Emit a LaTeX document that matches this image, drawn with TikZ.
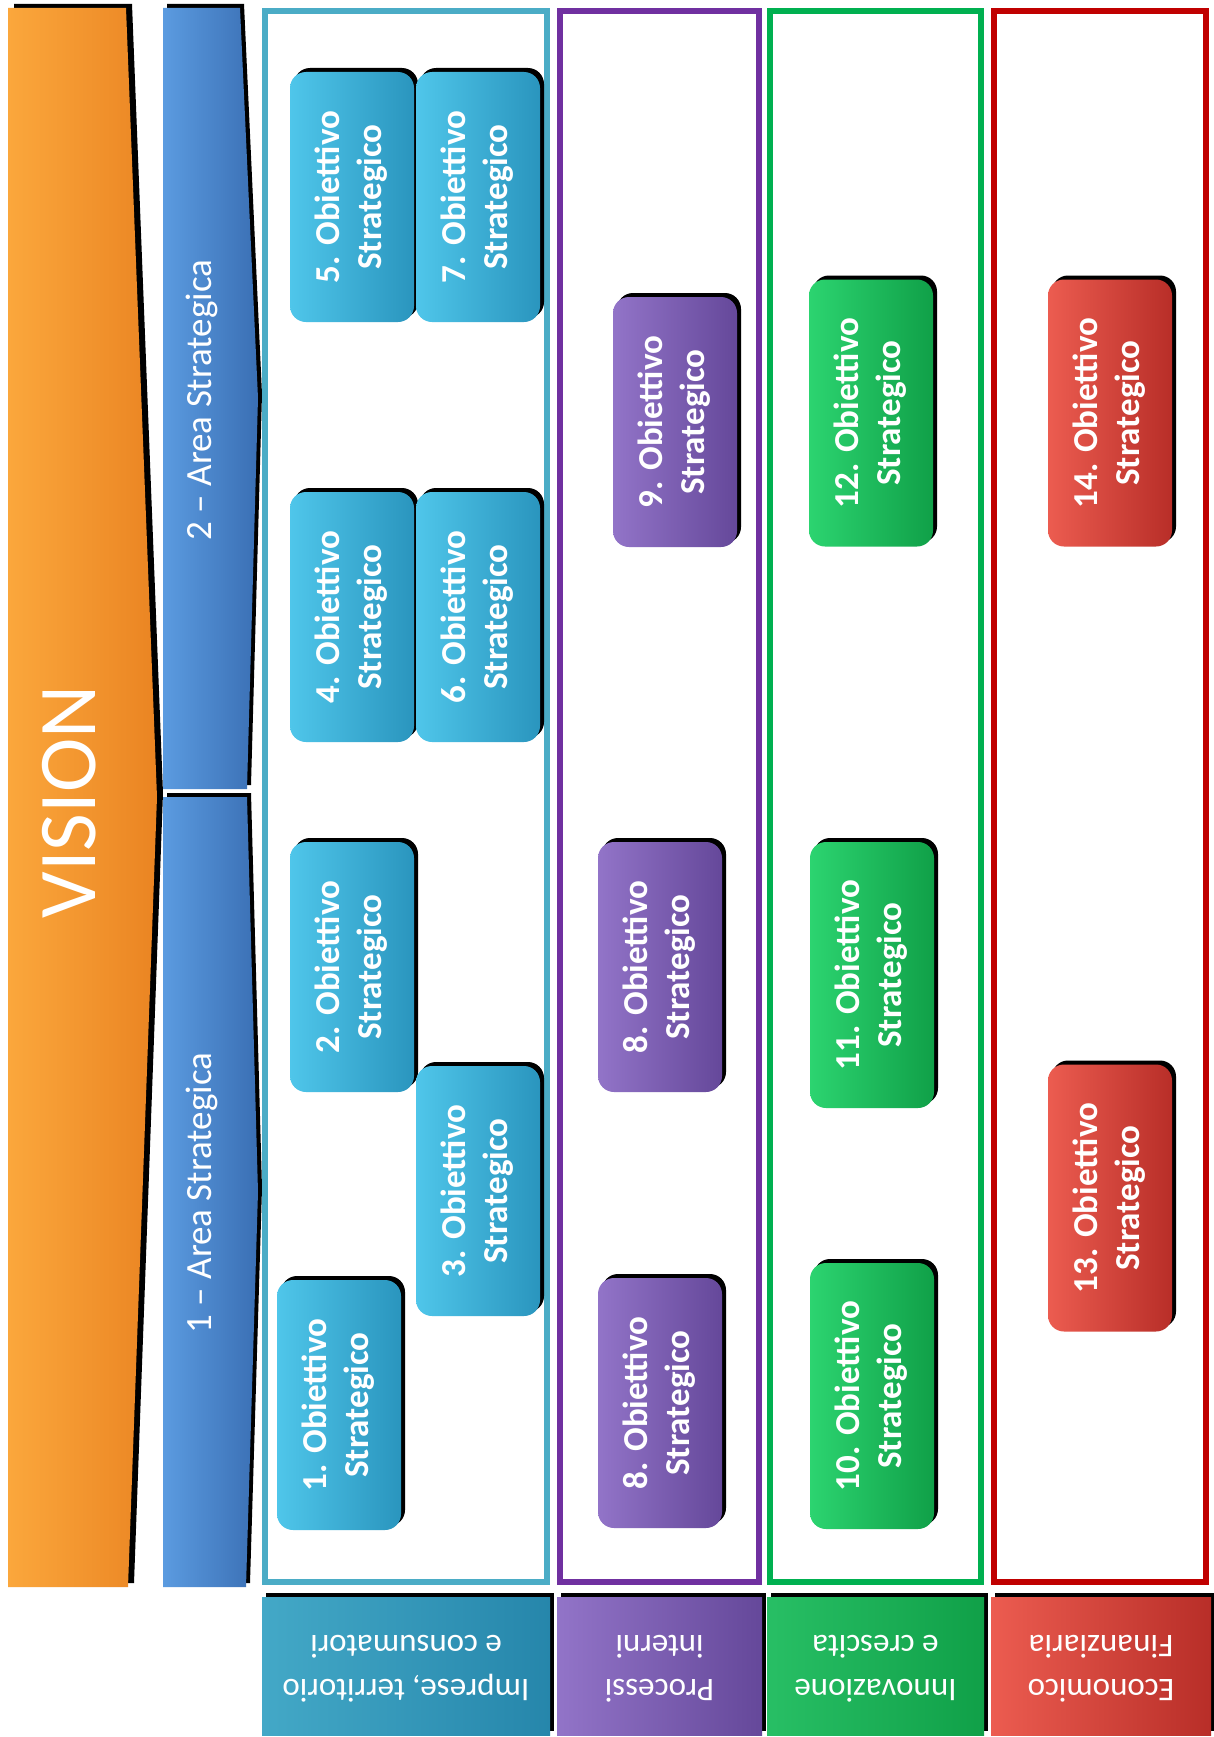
\documentclass[tikz,border=0pt]{standalone}
\usepackage{fontspec}
\setmainfont{Carlito}
\usetikzlibrary{shadows}
\definecolor{orL}{HTML}{FBA73C}
\definecolor{orD}{HTML}{EA8422}
\definecolor{blL}{HTML}{5B9BE0}
\definecolor{blD}{HTML}{3A6FB4}
\definecolor{cyL}{HTML}{4FC6EA}
\definecolor{cyD}{HTML}{2A95BE}
\definecolor{puL}{HTML}{9274C8}
\definecolor{puD}{HTML}{65489A}
\definecolor{grL}{HTML}{2CD470}
\definecolor{grD}{HTML}{10A048}
\definecolor{reL}{HTML}{EC5C50}
\definecolor{reD}{HTML}{B82E28}
\definecolor{cyF}{HTML}{4BACC6}
\definecolor{puF}{HTML}{7030A0}
\definecolor{grF}{HTML}{00B050}
\definecolor{reF}{HTML}{C00000}
\newcommand{\vlines}[1]{\rotatebox{90}{\begin{tabular}{@{}c@{}}#1\end{tabular}}}
\newcommand{\ulines}[1]{\rotatebox{180}{\begin{tabular}{@{}c@{}}#1\end{tabular}}}
\begin{document}
\begin{tikzpicture}[x=1pt,y=-1pt,
  sh/.style={drop shadow={shadow xshift=4pt, shadow yshift=4pt, opacity=1, fill=black}},
  objbox/.style={sh, rounded corners=16pt, minimum width=124pt, minimum height=250pt, inner sep=0pt, text=white, font=\fontsize{35pt}{42pt}\selectfont\bfseries},
  cyobj/.style={objbox, left color=cyL, right color=cyD},
  puobj/.style={objbox, left color=puL, right color=puD},
  grobj/.style={objbox, left color=grL, right color=grD},
  reobj/.style={objbox, left color=reL, right color=reD},
  lablbox/.style={sh, inner sep=0pt, minimum height=138pt, text=white, font=\fontsize{33pt}{44pt}\selectfont},
  colframe/.style={line width=6pt, fill=white, inner sep=0pt, minimum height=1571pt},
  bartext/.style={rotate=90, text=white, inner sep=0pt},
]
\useasboundingbox (0,0) rectangle (1213,1737);
\fill[white] (0,0) rectangle (1213,1737);

% chevrons
\path[drop shadow={shadow xshift=6pt, shadow yshift=4pt, opacity=1, fill=black}, left color=orL, right color=orD]
  (8,8) -- (126,8) -- (157,797) -- (128,1587) -- (8,1587) -- cycle;
\path[sh, left color=blL, right color=blD]
  (163,8) -- (240,8) -- (258,398) -- (247,789) -- (163,789) -- cycle;
\path[sh, left color=blL, right color=blD]
  (163,797) -- (247,797) -- (258,1192) -- (246,1587) -- (163,1587) -- cycle;

\node[bartext, font=\fontsize{82pt}{90pt}\selectfont] (vision) at (69,802) {VISION};
\node[bartext, font=\fontsize{37pt}{44pt}\selectfont] (area2) at (202,400) {2 – Area Strategica};
\node[bartext, font=\fontsize{37pt}{44pt}\selectfont] (area1) at (202,1193) {1 – Area Strategica};

% frames
\node[colframe, draw=cyF, minimum width=282pt] (f1) at (406,796.5) {};
\node[colframe, draw=puF, minimum width=199pt] (f2) at (659.5,796.5) {};
\node[colframe, draw=grF, minimum width=211pt] (f3) at (875.5,796.5) {};
\node[colframe, draw=reF, minimum width=212pt] (f4) at (1100,796.5) {};

% objectives
\node[cyobj] (o5) at (352,197) {\vlines{5. Obiettivo\\Strategico}};
\node[cyobj] (o7) at (478,197) {\vlines{7. Obiettivo\\Strategico}};
\node[cyobj] (o4) at (352,617) {\vlines{4. Obiettivo\\Strategico}};
\node[cyobj] (o6) at (478,617) {\vlines{6. Obiettivo\\Strategico}};
\node[cyobj] (o2) at (352,967) {\vlines{2. Obiettivo\\Strategico}};
\node[cyobj] (o3) at (478,1191) {\vlines{3. Obiettivo\\Strategico}};
\node[cyobj] (o1) at (339,1405) {\vlines{1. Obiettivo\\Strategico}};

\node[puobj] (o9) at (675,422) {\vlines{9. Obiettivo\\Strategico}};
\node[puobj] (o8a) at (660,967) {\vlines{8. Obiettivo\\Strategico}};
\node[puobj] (o8b) at (660,1403) {\vlines{8. Obiettivo\\Strategico}};

\node[grobj, minimum height=267pt] (o12) at (871,413) {\vlines{12. Obiettivo\\Strategico}};
\node[grobj, minimum height=266pt] (o11) at (872,975) {\vlines{11. Obiettivo\\Strategico}};
\node[grobj, minimum height=266pt] (o10) at (872,1396) {\vlines{10. Obiettivo\\Strategico}};

\node[reobj, minimum height=267pt] (o14) at (1110,413) {\vlines{14. Obiettivo\\Strategico}};
\node[reobj, minimum height=267pt] (o13) at (1110,1198) {\vlines{13. Obiettivo\\Strategico}};

% bottom labels
\node[lablbox, minimum width=288pt, left color=cyL!85!black, right color=cyD!90!black] (l1) at (406,1666) {\ulines{Imprese, territorio\\e consumatori}};
\node[lablbox, minimum width=205pt, left color=puL, right color=puD] (l2) at (659.5,1666) {\ulines{Processi\\interni}};
\node[lablbox, minimum width=217pt, left color=grL!90!black, right color=grD] (l3) at (875.5,1666) {\ulines{Innovazione\\e crescita}};
\node[lablbox, minimum width=220pt, left color=reL, right color=reD] (l4) at (1101,1666) {\ulines{Economico\\Finanziaria}};
\end{tikzpicture}
\end{document}
